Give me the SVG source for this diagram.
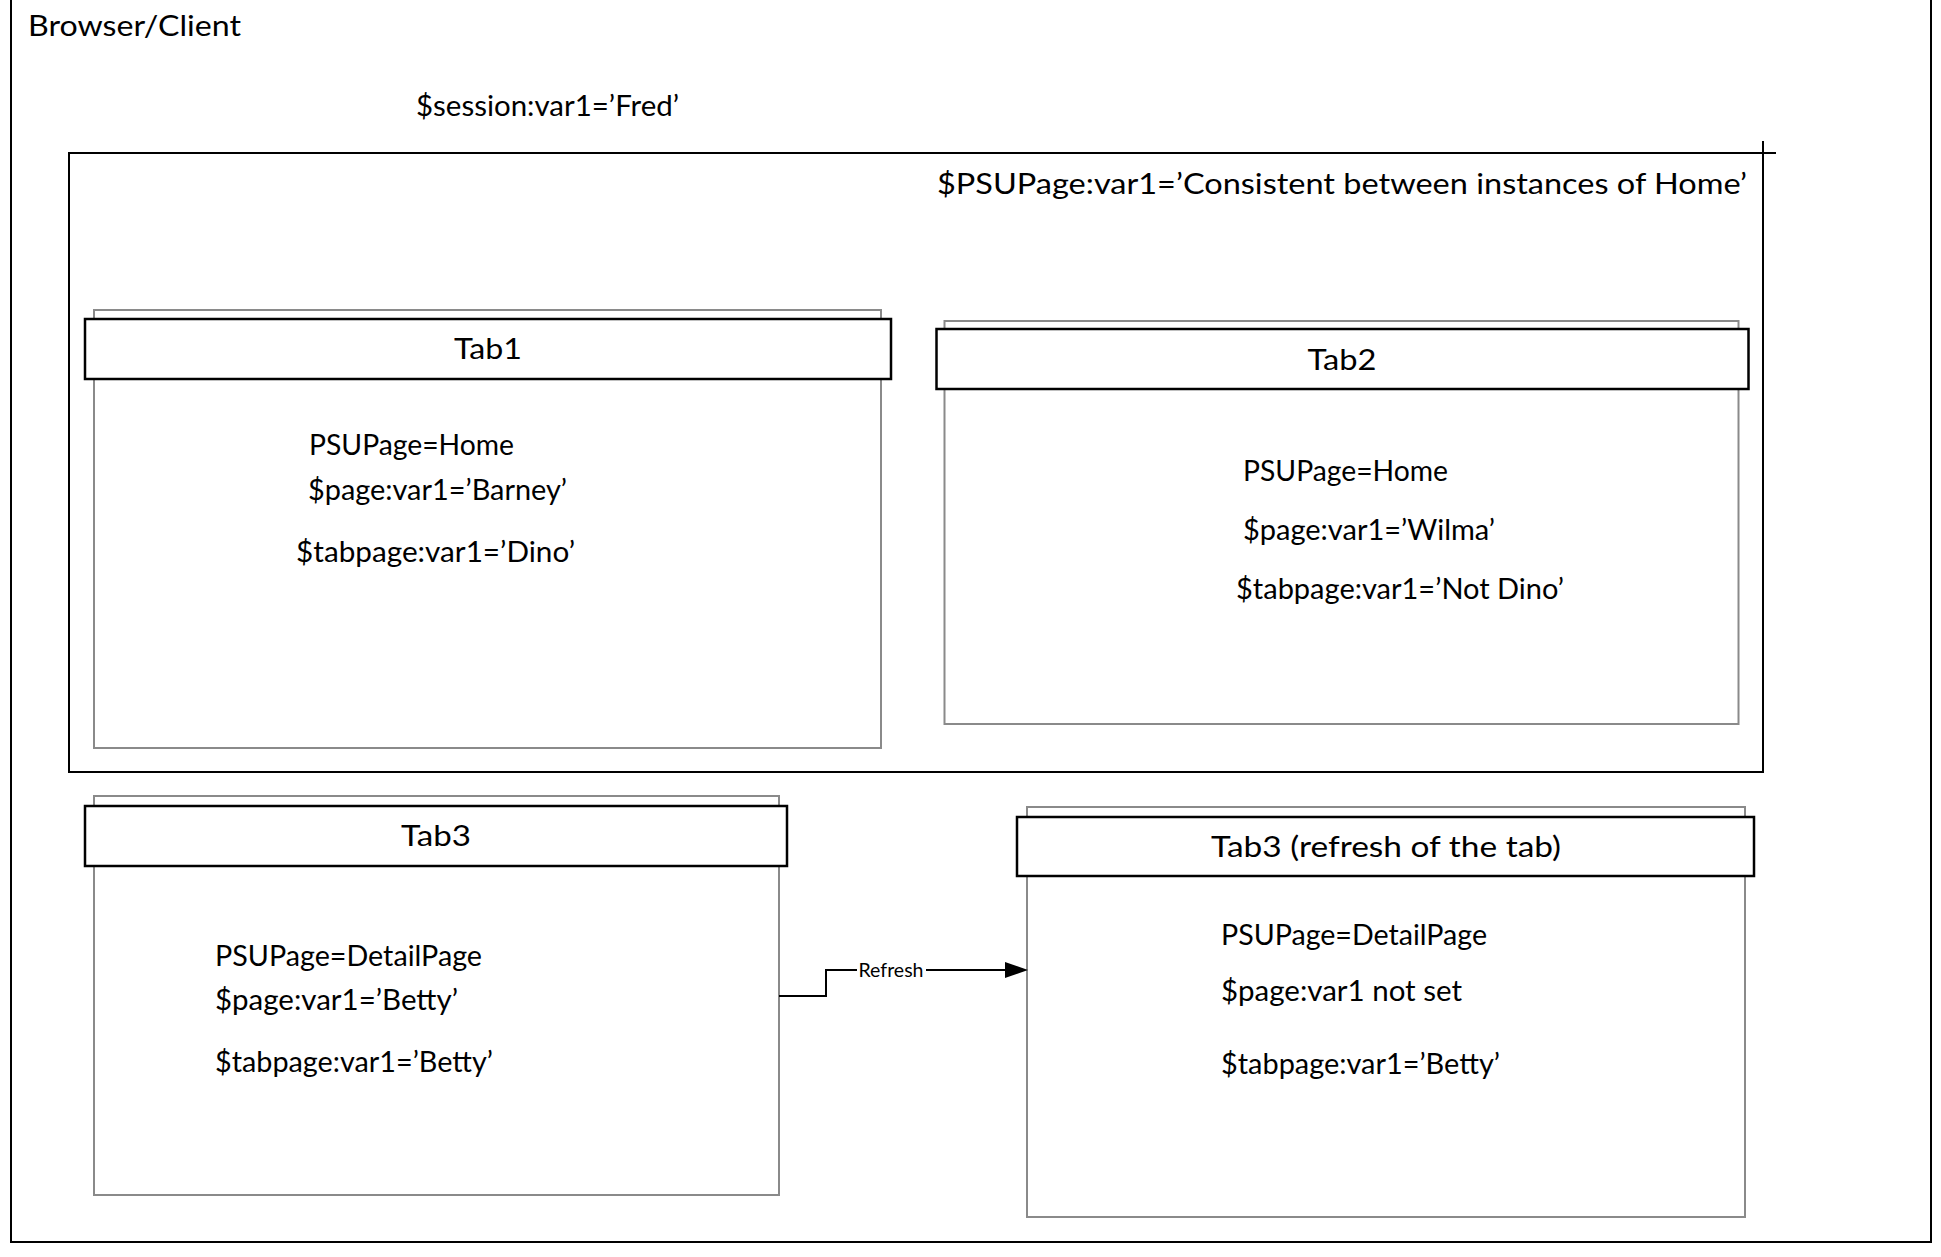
<svg xmlns="http://www.w3.org/2000/svg" width="1941" height="1257" viewBox="0 0 1941 1257">
<defs>
<style>
text{font-family:Lato,"Open Sans","Liberation Sans",sans-serif;fill:#000;font-size:29px}
.frame{fill:none;stroke:#000;stroke-width:2}
.body{fill:#fff;stroke:#8a8a8a;stroke-width:2}
.head{fill:#fff;stroke:#000;stroke-width:2.5}
.mid{text-anchor:middle}
.conn{fill:none;stroke:#000;stroke-width:2}
</style>
</defs>
<rect width="1941" height="1257" fill="#fff"/>
<g id="browser">
<path class="frame" d="M11,-2 V1242 H1931 V-2"/>
<text x="28" y="36" textLength="213" lengthAdjust="spacingAndGlyphs">Browser/Client</text>
<text x="416" y="116" textLength="263" lengthAdjust="spacingAndGlyphs">$session:var1=’Fred’</text>
</g>
<g id="psupage">
<rect class="frame" x="69" y="153" width="1694" height="619"/>
<path class="frame" d="M1763,153 H1776 M1763,153 V141"/>
<text x="937" y="194" textLength="810" lengthAdjust="spacingAndGlyphs">$PSUPage:var1=’Consistent between instances of Home’</text>
</g>
<g id="tab1">
<rect class="body" x="94" y="310" width="787" height="438"/>
<rect class="head" x="85" y="319" width="806" height="60"/>
<text class="mid" x="488" y="359" textLength="68" lengthAdjust="spacingAndGlyphs">Tab1</text>
<text x="309" y="455" textLength="205" lengthAdjust="spacingAndGlyphs">PSUPage=Home</text>
<text x="308" y="500" textLength="259" lengthAdjust="spacingAndGlyphs">$page:var1=’Barney’</text>
<text x="296" y="562" textLength="279" lengthAdjust="spacingAndGlyphs">$tabpage:var1=’Dino’</text>
</g>
<g id="tab2">
<rect class="body" x="944.5" y="321" width="794" height="403"/>
<rect class="head" x="936.5" y="329" width="812" height="60"/>
<text class="mid" x="1342" y="370" textLength="69" lengthAdjust="spacingAndGlyphs">Tab2</text>
<text x="1243" y="481" textLength="205" lengthAdjust="spacingAndGlyphs">PSUPage=Home</text>
<text x="1243" y="540" textLength="252" lengthAdjust="spacingAndGlyphs">$page:var1=’Wilma’</text>
<text x="1236" y="599" textLength="328" lengthAdjust="spacingAndGlyphs">$tabpage:var1=’Not Dino’</text>
</g>
<g id="tab3">
<rect class="body" x="94" y="796" width="685" height="399"/>
<rect class="head" x="85" y="806" width="702" height="60"/>
<text class="mid" x="436" y="846" textLength="70" lengthAdjust="spacingAndGlyphs">Tab3</text>
<text x="215" y="966" textLength="267" lengthAdjust="spacingAndGlyphs">PSUPage=DetailPage</text>
<text x="215" y="1010" textLength="243" lengthAdjust="spacingAndGlyphs">$page:var1=’Betty’</text>
<text x="215" y="1072" textLength="278" lengthAdjust="spacingAndGlyphs">$tabpage:var1=’Betty’</text>
</g>
<g id="tab3refresh">
<rect class="body" x="1027" y="807" width="718" height="410"/>
<rect class="head" x="1017" y="817" width="737" height="59"/>
<text class="mid" x="1386" y="857" textLength="350" lengthAdjust="spacingAndGlyphs">Tab3 (refresh of the tab)</text>
<text x="1221" y="945" textLength="266" lengthAdjust="spacingAndGlyphs">PSUPage=DetailPage</text>
<text x="1221" y="1001" textLength="241" lengthAdjust="spacingAndGlyphs">$page:var1 not set</text>
<text x="1221" y="1074" textLength="279" lengthAdjust="spacingAndGlyphs">$tabpage:var1=’Betty’</text>
</g>
<g id="connectors">
<path class="conn" d="M779,996 H826 V970 H1006"/>
<polygon points="1005,962 1028,970 1005,978" fill="#000"/>
<rect x="857" y="958" width="69" height="24" fill="#fff"/>
<text class="mid" x="891" y="977" style="font-size:19px" textLength="65" lengthAdjust="spacingAndGlyphs">Refresh</text>
</g>
</svg>
